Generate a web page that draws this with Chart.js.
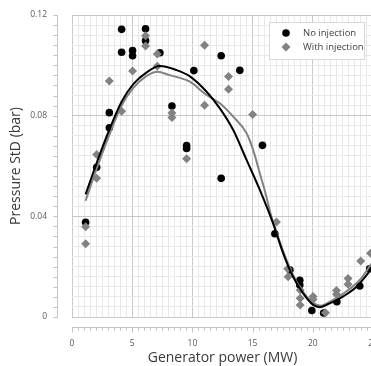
<!DOCTYPE html>
<html>
<head>
<meta charset="utf-8">
<script src="https://cdn.jsdelivr.net/npm/chart.js@4"></script>
<style>
    html, body { margin: 0; padding: 0; background: #fff; overflow: hidden; }
    #wrap { width: 390px; height: 366px; position: relative; }
</style>
</head>
<body>
<div id="wrap"><canvas id="chart"></canvas></div>
<script>
    // 측정값 (산점도)
    const noInjX = [1.13, 2.05, 3.1, 3.1, 4.12, 4.12, 5.03, 5.03, 6.11, 6.11, 7.3, 8.3, 9.52, 9.52,
        10.12, 12.39, 12.39, 13.94, 15.82, 16.85, 18.1, 18.92, 18.92, 19.92, 20.9, 22.0, 23.9, 24.72];
    const noInjY = [0.0376, 0.0595, 0.0812, 0.0752, 0.1143, 0.1052, 0.1059, 0.1038, 0.1145, 0.1098, 0.1050, 0.0838, 0.0681, 0.0670,
        0.0979, 0.1038, 0.0551, 0.0980, 0.0682, 0.0331, 0.0187, 0.0146, 0.0127, 0.0026, 0.0016, 0.0061, 0.0123, 0.0192];

    const withInjX = [1.13, 1.13, 2.05, 2.05, 3.1, 4.12, 5.03, 6.11, 6.11, 7.08, 7.08, 8.3, 8.3, 9.52,
        11.01, 11.01, 13.0, 13.0, 15.0, 16.98, 17.92, 17.95, 18.95, 18.95, 18.95, 20.02, 20.02, 21.05,
        21.97, 21.97, 22.93, 22.93, 23.98, 24.8];
    const withInjY = [0.0359, 0.0291, 0.0646, 0.0551, 0.0938, 0.0818, 0.0977, 0.1118, 0.1077, 0.1045, 0.0996, 0.0811, 0.0793, 0.0629,
        0.1080, 0.0841, 0.0956, 0.0905, 0.0805, 0.0377, 0.0192, 0.0160, 0.0107, 0.0075, 0.0048, 0.0081, 0.0070, 0.0017,
        0.0105, 0.0090, 0.0153, 0.0130, 0.0223, 0.0253];

    // 추세선 (그림에서 읽은 점)
    const fitNoX = [1.13, 2.05, 3.15, 4.12, 5.09, 6.2, 7.3, 8.69, 9.79, 11.18, 12.28, 13.39, 14.5, 15.6,
        16.7, 17.54, 18.36, 19.2, 20.03, 20.6, 21.4, 22.5, 23.63, 24.8, 25];
    const fitNoY = [0.0487, 0.0612, 0.0750, 0.0855, 0.0925, 0.0972, 0.0997, 0.0981, 0.0956, 0.0895, 0.0829, 0.0743, 0.0624, 0.0505,
        0.0372, 0.0253, 0.0160, 0.0094, 0.0048, 0.0039, 0.0054, 0.0081, 0.0120, 0.0187, 0.0200];

    const fitWithX = [1.13, 2.05, 3.15, 4.12, 5.09, 6.2, 7.1, 8.13, 8.96, 9.79, 11.18, 12.28, 13.39, 14.5,
        15.05, 15.6, 16.0, 16.57, 17.54, 18.36, 19.2, 20.03, 20.7, 21.4, 22.5, 23.9, 24.8, 25];
    const fitWithY = [0.0462, 0.0590, 0.0730, 0.0840, 0.0910, 0.0958, 0.0975, 0.0961, 0.0950, 0.0935, 0.0882, 0.0849, 0.0796, 0.0730,
        0.0663, 0.0571, 0.0505, 0.0398, 0.0262, 0.0166, 0.0099, 0.0056, 0.0045, 0.0060, 0.0092, 0.0147, 0.0207, 0.0220];

    const xMax = 25, xMajor = 5, xMinor = 0.5;
    const yMax = 0.12, yMajor = 0.04, yMinor = 0.004;

    const blackColor = '#000000';
    const grayColor = '#828282';
    const labelColor = '#595959';
    const titleColor = '#3a3a3a';

    const pts = (xs, ys) => xs.map((x, i) => ({ x: x, y: ys[i] }));
    const isMajor = (v, step) => {
        const r = v / step;
        return Math.abs(r - Math.round(r)) < 1e-6;
    };

    // 엑셀식 축선 + 범례
    const framePlugin = {
        id: 'frame',
        afterDraw(chart) {
            const { ctx, chartArea: a } = chart;
            const x = chart.scales.x, y = chart.scales.y;
            ctx.save();
            ctx.strokeStyle = '#c4c4c4';
            ctx.lineWidth = 1;
            ctx.beginPath();
            const ax = a.left - 15 + 0.5;
            ctx.moveTo(ax, Math.round(y.getPixelForValue(yMax)));
            ctx.lineTo(ax, Math.round(y.getPixelForValue(0)) + 1);
            y.ticks.forEach(t => {
                const p = Math.round(y.getPixelForValue(t.value)) + 0.5;
                ctx.moveTo(ax, p);
                ctx.lineTo(ax - 4, p);
            });
            const ay = a.bottom + 10 + 0.5;
            ctx.moveTo(Math.round(x.getPixelForValue(0)), ay);
            ctx.lineTo(chart.width, ay);
            x.ticks.forEach(t => {
                const p = Math.round(x.getPixelForValue(t.value)) + 0.5;
                ctx.moveTo(p, ay);
                ctx.lineTo(p, ay + (isMajor(t.value, xMajor) ? 5 : 3));
            });
            ctx.stroke();

            // 범례
            const lx = 269.5, ly = 22.5;
            ctx.fillStyle = '#ffffff';
            ctx.fillRect(lx, ly, 95, 37);
            ctx.strokeStyle = '#d9d9d9';
            ctx.strokeRect(lx, ly, 95, 37);
            ctx.fillStyle = blackColor;
            ctx.beginPath();
            ctx.arc(286, 33, 3.8, 0, Math.PI * 2);
            ctx.fill();
            ctx.fillStyle = grayColor;
            ctx.beginPath();
            ctx.moveTo(286, 42.5);
            ctx.lineTo(290.5, 47);
            ctx.lineTo(286, 51.5);
            ctx.lineTo(281.5, 47);
            ctx.closePath();
            ctx.fill();
            ctx.fillStyle = '#404040';
            ctx.font = '9.5px "Open Sans"';
            ctx.textBaseline = 'middle';
            ctx.textAlign = 'left';
            ctx.fillText('No injection', 303, 33);
            ctx.fillText('With injection', 303, 47);
            ctx.restore();
        }
    };

    new Chart(document.getElementById('chart'), {
        type: 'scatter',
        data: {
            datasets: [{
                label: 'No injection fit',
                data: pts(fitNoX, fitNoY),
                showLine: true,
                borderColor: blackColor,
                borderWidth: 2,
                pointRadius: 0,
                cubicInterpolationMode: 'monotone',
                order: 0
            }, {
                label: 'With injection fit',
                data: pts(fitWithX, fitWithY),
                showLine: true,
                borderColor: grayColor,
                borderWidth: 2,
                pointRadius: 0,
                cubicInterpolationMode: 'monotone',
                order: 1
            }, {
                label: 'With injection',
                data: pts(withInjX, withInjY),
                pointStyle: 'rectRot',
                pointRadius: 4.5,
                backgroundColor: grayColor,
                borderColor: grayColor,
                borderWidth: 0,
                order: 2
            }, {
                label: 'No injection',
                data: pts(noInjX, noInjY),
                pointStyle: 'circle',
                pointRadius: 3.8,
                backgroundColor: blackColor,
                borderColor: blackColor,
                borderWidth: 0,
                order: 3
            }]
        },
        options: {
            responsive: true,
            maintainAspectRatio: false,
            animation: false,
            layout: { padding: { top: 15, right: 17, left: 0, bottom: 0 } },
            plugins: {
                legend: { display: false },
                tooltip: { enabled: false }
            },
            scales: {
                x: {
                    type: 'linear',
                    min: 0,
                    max: xMax,
                    afterFit: s => { s.height = 49; s.paddingLeft = 0; s.paddingRight = 0; },
                    border: { display: false },
                    grid: {
                        drawTicks: false,
                        color: c => isMajor(c.tick.value, xMajor) ? '#c8c8c8' : '#e9e9e9'
                    },
                    ticks: {
                        stepSize: xMinor,
                        maxTicksLimit: 1000,
                        autoSkip: false,
                        maxRotation: 0,
                        padding: 21,
                        color: labelColor,
                        font: { family: 'Open Sans', size: 8.5 },
                        callback: v => isMajor(v, xMajor) ? String(Math.round(v)) : ''
                    },
                    title: {
                        display: true,
                        text: 'Generator power (MW)',
                        color: titleColor,
                        font: { family: 'Open Sans', size: 14 },
                        padding: { top: 0, bottom: 0 }
                    }
                },
                y: {
                    type: 'linear',
                    min: 0,
                    max: yMax,
                    afterFit: s => { s.width = 72; s.paddingTop = 0; s.paddingBottom = 0; },
                    border: { display: false },
                    grid: {
                        drawTicks: false,
                        color: c => isMajor(c.tick.value, yMajor) ? '#c8c8c8' : '#e9e9e9'
                    },
                    ticks: {
                        stepSize: yMinor,
                        maxTicksLimit: 1000,
                        autoSkip: false,
                        padding: 25,
                        color: labelColor,
                        font: { family: 'Open Sans', size: 8.5 },
                        callback: v => isMajor(v, yMajor) ? (v === 0 ? '0' : v.toFixed(2)) : ''
                    },
                    title: {
                        display: true,
                        text: 'Pressure StD (bar)',
                        color: titleColor,
                        font: { family: 'Open Sans', size: 14 },
                        padding: { top: 8, bottom: 0 }
                    }
                }
            }
        },
        plugins: [framePlugin]
    });
</script>
</body>
</html>
